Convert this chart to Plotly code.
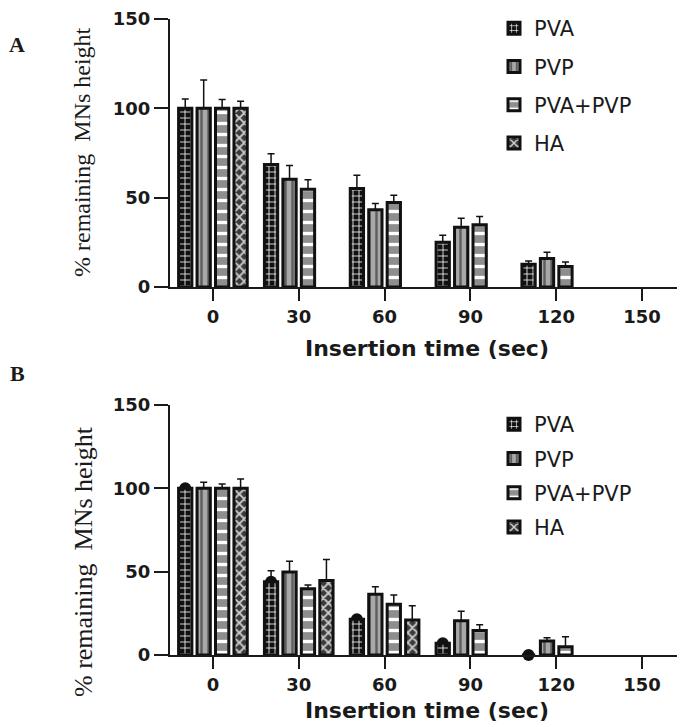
import plotly.graph_objects as go

categories = ["0", "30", "60", "90", "120", "150"]
series_names = ["PVA", "PVP", "PVA+PVP", "HA"]

# Panel A values (% remaining MNs height) and upper error bars
a_pva = [100, 68.5, 55.2, 25.0, 12.8, None]
a_pva_err = [5.2, 6.1, 7.4, 4.0, 1.8, None]
a_pvp = [100, 60.3, 43.3, 33.5, 16.0, None]
a_pvp_err = [15.8, 7.7, 3.5, 5.0, 3.4, None]
a_mix = [100, 54.7, 47.3, 34.9, 11.5, None]
a_mix_err = [5.0, 5.3, 4.0, 4.5, 2.5, None]
a_ha = [100, None, None, None, None, None]
a_ha_err = [4.0, None, None, None, None, None]

# Panel B values
b_pva = [100, 44.0, 21.4, 7.0, 0.0, None]
b_pva_err = [2.0, 6.5, 2.0, 1.0, 0.0, None]
b_pvp = [100, 49.8, 36.4, 20.6, 8.4, None]
b_pvp_err = [3.6, 6.4, 4.6, 5.6, 2.0, None]
b_mix = [100, 39.7, 30.5, 14.7, 5.0, None]
b_mix_err = [2.6, 2.3, 5.5, 3.5, 6.0, None]
b_ha = [100, 44.7, 21.0, None, None, None]
b_ha_err = [5.6, 12.6, 8.5, None, None, None]

yticks = [0, 50, 100, 150]

patterns = {
    "PVA": dict(shape="+", fgcolor="white", bgcolor="#111111", size=6, solidity=0.25, fillmode="replace"),
    "PVP": dict(shape="|", fgcolor="#5e5e5e", bgcolor="#a8a8a8", size=7, solidity=0.35, fillmode="replace"),
    "PVA+PVP": dict(shape="-", fgcolor="white", bgcolor="#8e8e8e", size=11, solidity=0.3, fillmode="replace"),
    "HA": dict(shape="x", fgcolor="#d0d0d0", bgcolor="#3a3a3a", size=7, solidity=0.45, fillmode="replace"),
}

W, H = 685, 727
OFF = 8  # page offset of the figure inside the browser window

def px(x):
    return (x - OFF) / W

def py(y):
    return 1 - (y - OFF) / H

BAR_GAP = 0.14
fig = go.Figure()

# PVA data symbols in panel B, drawn underneath the bars (base subplot x2/y2)
b_points = [b_pva, b_pvp, b_mix, b_ha]
for i, (name, vals) in enumerate(zip(series_names, b_points)):
    fig.add_trace(go.Scatter(
        x=categories, y=vals, xaxis="x2", yaxis="y2", mode="markers",
        offsetgroup=name, alignmentgroup="x2sc", showlegend=False, hoverinfo="skip",
        marker=dict(color="#111111", size=12, opacity=1 if i == 0 else 0),
        cliponaxis=False,
    ))

panels = [
    ("x", "y", "legend", [(a_pva, a_pva_err), (a_pvp, a_pvp_err), (a_mix, a_mix_err), (a_ha, a_ha_err)]),
    ("x2", "y3", "legend2", [(b_pva, b_pva_err), (b_pvp, b_pvp_err), (b_mix, b_mix_err), (b_ha, b_ha_err)]),
]

for xa, ya, leg, data in panels:
    for name, (vals, errs) in zip(series_names, data):
        fig.add_trace(go.Bar(
            x=categories, y=vals, name=name, xaxis=xa, yaxis=ya, legend=leg,
            legendgroup=leg + name, offsetgroup=name, alignmentgroup=xa,
            marker=dict(pattern=patterns[name], line=dict(color="#111111", width=3)),
            error_y=dict(type="data", array=errs, arrayminus=[0] * len(errs), symmetric=False,
                         color="#111111", thickness=1.5, width=3.5),
            hoverinfo="skip",
        ))

tickfont = dict(family="DejaVu Sans", size=18, color="#1a1a1a", weight="bold")
xdom = [px(170), min(1.0, px(685))]

def xaxis(anchor):
    return dict(type="category", categoryorder="array", categoryarray=categories,
                range=[-0.5, 5.5], domain=xdom, anchor=anchor,
                showline=True, linewidth=2, linecolor="#1a1a1a",
                ticks="outside", ticklen=12, tickwidth=2, tickcolor="#1a1a1a",
                tickfont=tickfont, showgrid=False, zeroline=False, fixedrange=True,
                ticklabeloverflow="allow")

def yaxis(anchor, dom):
    return dict(range=[0, 150], tickvals=yticks, domain=dom, anchor=anchor,
                showline=True, linewidth=2, linecolor="#1a1a1a",
                ticks="outside", ticklen=14, tickwidth=2, tickcolor="#1a1a1a",
                tickfont=tickfont, showgrid=False, zeroline=False, fixedrange=True,
                ticklabeloverflow="allow")

legfont = dict(family="DejaVu Sans", size=21, color="#1a1a1a")
ydomA = [py(287), py(19)]
ydomB = [py(655), py(405)]

fig.update_layout(
    width=W, height=H,
    margin=dict(l=0, r=0, t=0, b=0, pad=0, autoexpand=False),
    paper_bgcolor="white", plot_bgcolor="white",
    barmode="group", bargap=BAR_GAP, bargroupgap=0.28,
    scattermode="group", scattergap=BAR_GAP,
    xaxis=xaxis("y"), yaxis=yaxis("x", ydomA),
    xaxis2=xaxis("y2"), yaxis2=yaxis("x2", ydomB),
    yaxis3=dict(range=[0, 150], overlaying="y2", anchor="x2", visible=False, fixedrange=True),
    legend=dict(x=px(494), y=min(1.0, py(8)), xanchor="left", yanchor="top",
                font=legfont, tracegroupgap=8, bgcolor="rgba(0,0,0,0)", traceorder="grouped"),
    legend2=dict(x=px(494), y=py(404), xanchor="left", yanchor="top",
                 font=legfont, tracegroupgap=4, bgcolor="rgba(0,0,0,0)", traceorder="grouped"),
    showlegend=True,
)

serif_title = dict(family="Liberation Serif", color="#1a1a1a")
ann = [
    dict(text="Insertion time (sec)", x=px(427), y=py(348),
         font=dict(family="DejaVu Sans", size=22, color="#1a1a1a", weight="bold")),
    dict(text="Insertion time (sec)", x=px(427), y=py(710),
         font=dict(family="DejaVu Sans", size=22, color="#1a1a1a", weight="bold")),
    dict(text="% remaining  MNs height", x=px(82), y=py(152), textangle=-90,
         font=dict(size=24, **serif_title)),
    dict(text="% remaining  MNs height", x=px(83), y=py(562), textangle=-90,
         font=dict(size=26, **serif_title)),
    dict(text="A", x=px(17), y=py(45),
         font=dict(size=22, weight="bold", **serif_title)),
    dict(text="B", x=px(17), y=py(373),
         font=dict(size=22, weight="bold", **serif_title)),
]
for a in ann:
    fig.add_annotation(xref="paper", yref="paper", xanchor="center", yanchor="middle",
                       showarrow=False, **a)

fig.write_html("out.html")
